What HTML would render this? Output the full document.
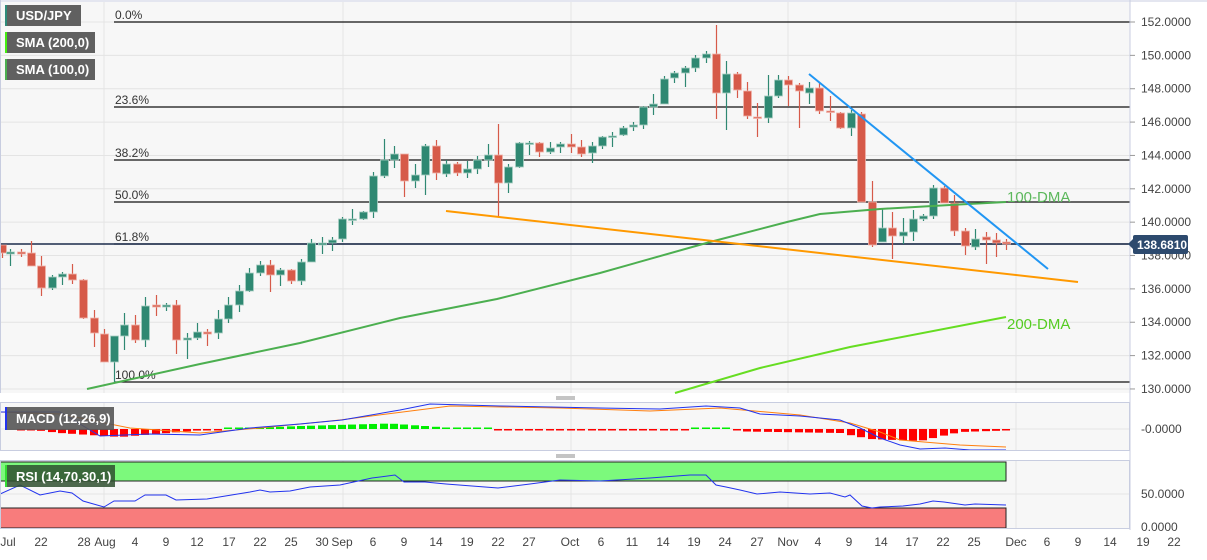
<!DOCTYPE html>
<html><head><meta charset="utf-8">
<style>
html,body{margin:0;padding:0;background:#fff;}
body{width:1207px;height:555px;overflow:hidden;font-family:"Liberation Sans",sans-serif;}
svg text{font-family:"Liberation Sans",sans-serif;}
</style></head>
<body>
<svg id="s" width="1207" height="555" xmlns="http://www.w3.org/2000/svg">
<rect x="0" y="2" width="1130" height="391" fill="#f7f7f7"/>
<rect x="0" y="402" width="1130" height="49" fill="#f7f7f7"/>
<rect x="0" y="461" width="1130" height="67" fill="#f7f7f7"/>
<g id="grid" stroke="#e4e4e4" stroke-width="1"></g>
<g id="bands">
<rect x="0" y="462" width="1006" height="19" fill="#7cf97c" stroke="#222" stroke-width="1"/>
<rect x="0" y="508" width="1006" height="20" fill="#f87c7c" stroke="#222" stroke-width="1"/>
</g>
<g id="fib" stroke="#111" stroke-width="1.2"></g>
<line x1="0" y1="244" x2="1130" y2="244" stroke="#1c2c4c" stroke-width="1.5"/>
<g id="candles"></g>
<polyline fill="none" stroke="#4caf50" stroke-width="2" points="87,389 200,364 300,343 400,318 497,299 600,273 710,242 787,222 820,214 880,209 950,205 1006,202"/>
<polyline fill="none" stroke="#66dd22" stroke-width="2" points="675,393 760,368 850,347 1006,317"/>
<line x1="446" y1="211" x2="1078" y2="282" stroke="#ff9900" stroke-width="2"/>
<line x1="809" y1="74" x2="1048" y2="269" stroke="#2196f3" stroke-width="2"/>
<text x="1007" y="202" font-size="15" fill="#5cb85c">100-DMA</text>
<text x="1007" y="329" font-size="15" fill="#55cc22">200-DMA</text>
<g id="hist"></g>
<polyline fill="none" stroke="#ff7f0e" stroke-width="1" points="0,412 60,414 130,428 200,433 260,428 340,420 450,406 560,408 650,411 720,408 800,415 850,423 880,432 900,440 960,445 1006,447"/>
<polyline fill="none" stroke="#2233ee" stroke-width="1" points="0,412 60,412 100,436 150,434 200,435 250,428 300,424 342,420 400,410 430,404 500,406 600,408 660,409 706,406 740,408 760,414 800,416 840,420 860,428 880,438 900,445 920,449 945,448 970,450 1006,450"/>
<polyline fill="none" stroke="#2233ee" stroke-width="1" points="0,494 20,485 40,495 60,491 72,493 83,501 104,507 114,501 135,501 145,495 166,495 176,500 207,499 250,492 260,490 270,492 290,491 310,487 340,485 372,478 395,475 404,482 425,482 446,484 498,488 530,484 560,480 600,481 650,478 690,475 706,475 716,485 726,487 740,490 757,494 780,492 810,494 830,493 845,497 850,495 862,506 872,508 880,507 903,506 920,504 933,501 944,502 965,505 975,504 1006,505"/>
<g stroke="#888" stroke-width="1"><line x1="556" y1="397" x2="575" y2="397"/><line x1="556" y1="399" x2="575" y2="399"/><line x1="556" y1="455" x2="575" y2="455"/><line x1="556" y1="457" x2="575" y2="457"/></g>
<g stroke="#c8cde0" stroke-width="1" fill="none">
<line x1="1130" y1="0" x2="1130" y2="530"/>
<rect x="0.5" y="402.5" width="1129" height="48"/>
<rect x="0.5" y="460.5" width="1129" height="68"/>
<line x1="0" y1="1" x2="1207" y2="1"/>
<line x1="0.5" y1="0" x2="0.5" y2="393"/>
</g>
<g id="ylab" font-size="12" fill="#444"></g>
<rect x="1133" y="235" width="55" height="19" rx="2" fill="#2d4a6e"/>
<polygon points="1128,244 1133,239 1133,249" fill="#2d4a6e"/>
<text x="1137" y="249" font-size="12" font-weight="bold" fill="#fff">138.6810</text>
<g id="xlab" font-size="12" fill="#444" text-anchor="middle"></g>
<g font-size="13" font-weight="bold" fill="#fff">
<rect x="5" y="5" width="76" height="21" fill="#606060"/><rect x="5" y="5" width="2" height="21" fill="#2e8b7a"/><text x="16" y="20">USD/JPY</text>
<rect x="5" y="32" width="90" height="21" fill="#606060"/><rect x="5" y="32" width="2" height="21" fill="#44ee11"/><text x="16" y="47">SMA (200,0)</text>
<rect x="5" y="59" width="90" height="21" fill="#606060"/><rect x="5" y="59" width="2" height="21" fill="#4caf50"/><text x="16" y="74">SMA (100,0)</text>
<rect x="5" y="407" width="109" height="23" fill="#555" opacity="0.9"/><rect x="5" y="407" width="2" height="23" fill="#2233ee"/><text x="16" y="423">MACD (12,26,9)</text>
<rect x="5" y="465" width="110" height="22" fill="#2f4f2f" opacity="0.85"/><rect x="5" y="465" width="2" height="22" fill="#33dd33"/><text x="16" y="481">RSI (14,70,30,1)</text>
</g>
</svg>
<script>
var NS="http://www.w3.org/2000/svg";
function el(p,t,a,txt){var e=document.createElementNS(NS,t);for(var k in a)e.setAttribute(k,a[k]);if(txt)e.textContent=txt;document.getElementById(p).appendChild(e);return e;}
for(var v=130;v<=152;v+=2){var y=22+(152-v)*16.68;el('grid','line',{x1:0,y1:y,x2:1130,y2:y});}
[104,343,571,788,1016].forEach(function(x){el('grid','line',{x1:x,y1:2,x2:x,y2:393});el('grid','line',{x1:x,y1:402,x2:x,y2:451});el('grid','line',{x1:x,y1:461,x2:x,y2:528});});
el('grid','line',{x1:0,y1:429,x2:1130,y2:429});el('grid','line',{x1:0,y1:494,x2:1130,y2:494});
[[22,'0.0%'],[107,'23.6%'],[160,'38.2%'],[202,'50.0%'],[244,'61.8%'],[382,'100.0%']].forEach(function(f){el('fib','line',{x1:114,y1:f[0],x2:1130,y2:f[0]});el('fib','text',{x:115,y:f[0]-3,'font-size':12,fill:'#333',stroke:'none'},f[1]);});
for(var v=130;v<=152;v+=2){var y=22+(152-v)*16.68;el('ylab','line',{x1:1130,y1:y,x2:1135,y2:y,stroke:'#999'});el('ylab','text',{x:1141,y:y+4},v.toFixed(4));}
el('ylab','text',{x:1141,y:433},'-0.0000');el('ylab','text',{x:1141,y:498},'50.0000');el('ylab','text',{x:1141,y:531},'0.0000');
[[8,'Jul'],[41,'22'],[84,'28'],[105,'Aug'],[135,'4'],[166,'9'],[197,'12'],[229,'17'],[260,'22'],[291,'25'],[322,'30'],[342,'Sep'],[373,'6'],[404,'9'],[436,'14'],[467,'19'],[498,'22'],[529,'27'],[570,'Oct'],[601,'6'],[632,'11'],[663,'14'],[694,'19'],[725,'24'],[757,'27'],[788,'Nov'],[818,'4'],[849,'9'],[881,'14'],[912,'17'],[943,'22'],[974,'25'],[1016,'Dec'],[1047,'6'],[1078,'9'],[1110,'14'],[1143,'19'],[1174,'22']].forEach(function(l){el('xlab','text',{x:l[0],y:546},l[1]);});
var C=[[2,'r',245,253,245,258],[10,'g',252,254,249,266],[21,'r',252,254,249,257],[31,'r',253,266,241,266],[41,'r',266,288,256,296],[52,'g',277,288,275,290],[62,'g',274,277,272,285],[72,'r',274,280,264,284],[83,'r',280,318,279,319],[94,'r',318,333,310,347],[104,'r',334,362,329,362],[114,'g',336,362,336,382],[124,'g',325,336,313,350],[135,'r',325,340,315,343],[145,'g',306,340,297,347],[156,'r',305,307,295,316],[166,'g',305,307,303,311],[176,'r',305,340,300,354],[187,'g',338,340,333,359],[197,'g',332,338,323,340],[207,'r',332,334,329,346],[218,'g',319,333,310,339],[228,'g',305,319,297,323],[239,'g',291,305,285,312],[249,'g',273,291,268,292],[260,'g',265,273,261,276],[270,'r',265,275,260,292],[280,'g',270,275,268,286],[291,'r',270,281,269,284],
[301,'g',262,281,259,285],[311,'g',243,262,239,262],[322,'g',243,245,237,254],[332,'g',240,243,237,251],[342,'g',219,239,217,242],[352,'g',219,220,209,225],[363,'g',212,219,211,220],[373,'g',176,212,172,218],[384,'g',160,176,139,178],[394,'g',154,160,146,168],[404,'r',154,181,154,197],[415,'g',175,181,164,188],[425,'g',146,175,144,195],[436,'r',146,173,140,180],[446,'g',164,174,160,177],[457,'r',164,173,162,176],[467,'g',169,173,161,178],[477,'g',160,169,156,174],[488,'g',155,160,144,167],[498,'r',155,183,124,216],[508,'g',167,183,164,193],[519,'g',143,167,142,168],[529,'g',143,144,141,155],[539,'r',143,152,142,157],[550,'g',148,152,142,154],[560,'g',144,147,142,153],[571,'r',144,147,134,153],[581,'r',147,154,140,157],
[592,'g',146,153,142,163],[602,'g',137,146,136,149],[612,'g',136,137,132,147],[623,'g',128,135,126,136],[633,'g',125,127,122,131],[643,'g',107,125,106,129],[653,'g',104,107,94,115],[664,'g',79,104,76,104],[674,'g',73,78,71,83],[685,'g',68,73,66,87],[695,'g',58,68,55,72],[706,'g',54,58,51,63],[716,'r',54,93,25,119],[726,'g',74,93,61,130],[737,'r',74,90,72,98],[747,'r',91,116,82,119],[757,'r',117,118,103,137],[768,'g',96,118,75,123],[778,'g',80,96,75,98],[788,'r',80,85,76,106],[799,'r',85,91,83,128],[809,'g',88,93,82,104],[819,'r',88,111,82,114],[830,'r',111,112,96,121],[840,'r',113,128,112,129],[851,'g',113,128,110,136],[861,'r',114,202,112,202],[872,'r',202,245,181,247],[882,'g',228,242,209,242],[892,'r',228,236,212,259],[903,'g',232,236,218,244],[913,'g',219,232,210,241],[923,'g',216,219,214,221],[933,'g',188,216,185,219],[944,'r',188,203,186,203],[954,'r',203,231,195,236],[965,'r',231,246,228,255],[975,'g',239,247,229,250],[986,'r',237,240,232,264],[996,'r',240,243,233,257],[1006,'r',242,244,239,250]];
C.forEach(function(c){var col=c[1]=='g'?'#2f8872':'#d65a49';var sc=c[1]=='g'?'#a9cfc4':'#f0b3aa';
el('candles','line',{x1:c[0]+0.5,y1:c[4],x2:c[0]+0.5,y2:c[5],stroke:col,'stroke-width':1.2});
var h=Math.max(c[3]-c[2],1.5);el('candles','rect',{x:c[0]-3.5,y:c[2],width:8,height:h,fill:col,stroke:sc,'stroke-width':0.8});});
function hv(x){
 if(x<25)return 0.5; if(x<60)return (x-25)/35*4; if(x<120)return 4+(x-60)/60*4; if(x<210)return 8-(x-120)/90*7.5;
 if(x<225)return 0.5; if(x<300)return -(x-225)/75*3; if(x<390)return -3-(x-300)/90*2.5; if(x<460)return -5.5+(x-390)/70*5;
 if(x<490)return -0.5; if(x<690)return 1.5; if(x<730)return -1.5; if(x<745)return 0.5; if(x<840)return 2.5+(x-745)/95*1.5;
 if(x<870)return 4+(x-840)/30*6; if(x<920)return 10+(x-870)/50*2; if(x<960)return 12-(x-920)/40*9; return 3-(x-960)/46*1.5;}
C.forEach(function(c){if(c[0]<20)return;var v=hv(c[0]);var col=v>=0?'#ff0000':'#00ee00';
 var h=Math.max(Math.abs(v),1.5);var y=v>=0?429:429-h;el('hist','rect',{x:c[0]-4,y:y,width:8,height:h,fill:col});});
</script>
</body></html>
